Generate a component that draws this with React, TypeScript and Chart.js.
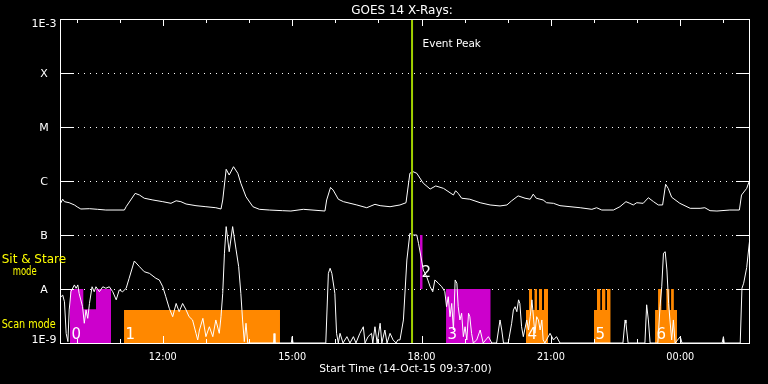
import React, { useEffect, useRef } from 'react';
import { Chart, registerables } from 'chart.js';

Chart.register(...registerables);

// ---- time axis (hours of 14-Oct-15; values above 24 fall on 15-Oct) ----
const startHour = 9 + 37 / 60; // 09:37:00
const spanHours = 16;
const xMajorHours = [12, 15, 18, 21, 24];
const xMajorLabels = ['12:00', '15:00', '18:00', '21:00', '00:00'];
const xMinorHours = [10, 11, 13, 14, 16, 17, 19, 20, 22, 23, 25];

// ---- flux axis ----
const yTickValues = [1e-9, 1e-8, 1e-7, 1e-6, 1e-5, 1e-4, 1e-3];
const yTickLabels = ['1E-9', 'A', 'B', 'C', 'M', 'X', '1E-3'];

const titleText = 'GOES 14 X-Rays:';
const xTitleText = 'Start Time (14-Oct-15 09:37:00)';
const eventPeakHour = 17.78;
const eventPeakText = 'Event Peak';

// ---- long channel (upper curve): [hour, W/m^2] ----
const longSamples: [number, number][] = [
  [9.63, 3.86e-7], [9.68, 4.6e-7], [9.72, 4.14e-7], [9.83, 3.96e-7], [9.95, 3.6e-7],
  [10.03, 3.26e-7], [10.1, 3.03e-7], [10.3, 3.07e-7], [10.49, 2.99e-7], [10.68, 2.9e-7],
  [11.11, 2.9e-7], [11.15, 3.34e-7], [11.36, 5.9e-7], [11.46, 5.5e-7], [11.57, 4.8e-7],
  [11.77, 4.45e-7], [12.0, 4.14e-7], [12.19, 3.86e-7], [12.31, 4.3e-7], [12.42, 4.14e-7],
  [12.54, 3.75e-7], [12.77, 3.49e-7], [13.0, 3.34e-7], [13.23, 3.2e-7], [13.35, 3.03e-7],
  [13.39, 4.45e-7], [13.47, 1.65e-6], [13.54, 1.29e-6], [13.64, 1.84e-6], [13.74, 1.39e-6],
  [13.81, 9.1e-7], [13.93, 5.1e-7], [14.09, 3.34e-7], [14.24, 2.99e-7], [14.47, 2.9e-7],
  [14.78, 2.82e-7], [14.97, 2.78e-7], [15.26, 2.99e-7], [15.76, 2.78e-7], [15.8, 4.45e-7],
  [15.89, 7.6e-7], [15.95, 6.8e-7], [16.07, 4.6e-7], [16.19, 4.14e-7], [16.5, 3.6e-7],
  [16.73, 3.2e-7], [16.92, 3.7e-7], [17.04, 3.49e-7], [17.27, 3.34e-7], [17.5, 3.6e-7],
  [17.64, 3.96e-7], [17.73, 1.39e-6], [17.8, 1.49e-6], [17.89, 1.39e-6], [18.04, 9.1e-7],
  [18.2, 7.1e-7], [18.33, 8.1e-7], [18.51, 7.3e-7], [18.74, 5.5e-7], [18.79, 6.6e-7],
  [18.85, 5.9e-7], [18.93, 4.8e-7], [19.12, 4.6e-7], [19.36, 3.96e-7], [19.59, 3.6e-7],
  [19.82, 3.45e-7], [19.98, 3.6e-7], [20.09, 4.3e-7], [20.24, 5.3e-7], [20.4, 4.8e-7],
  [20.52, 4.6e-7], [20.59, 5.7e-7], [20.66, 4.8e-7], [20.82, 4.45e-7], [20.9, 3.96e-7],
  [21.06, 3.86e-7], [21.21, 3.49e-7], [21.68, 3.2e-7], [21.95, 2.99e-7], [22.06, 3.2e-7],
  [22.18, 2.9e-7], [22.45, 2.9e-7], [22.6, 3.34e-7], [22.74, 4.14e-7], [22.83, 3.86e-7],
  [22.91, 3.6e-7], [22.99, 3.96e-7], [23.14, 3.86e-7], [23.26, 4.9e-7], [23.38, 4.14e-7],
  [23.49, 3.6e-7], [23.59, 3.6e-7], [23.66, 8.7e-7], [23.72, 7.3e-7], [23.8, 5.0e-7],
  [23.99, 3.86e-7], [24.23, 3.12e-7], [24.46, 3.12e-7], [24.57, 3.2e-7], [24.69, 2.82e-7],
  [24.85, 2.78e-7], [25.15, 2.9e-7], [25.37, 2.9e-7], [25.42, 5.5e-7], [25.54, 7.3e-7],
  [25.62, 1.1e-6],
];

// ---- short channel (lower curve): [hour, W/m^2] ----
const shortSamples: [number, number][] = [
  [9.64, 7.2e-9], [9.68, 7.7e-9], [9.72, 5.8e-9], [9.76, 1.5e-9], [9.8, 1.06e-9],
  [9.83, 4.1e-9], [9.87, 8.9e-9], [9.95, 1.19e-8], [9.99, 1.03e-8], [10.03, 1.19e-8],
  [10.06, 8.3e-9], [10.14, 4.7e-9], [10.18, 2.32e-9], [10.22, 4.1e-9], [10.26, 2.86e-9],
  [10.3, 5.4e-9], [10.36, 1.1e-8], [10.41, 8.9e-9], [10.45, 1.1e-8], [10.53, 8.9e-9],
  [10.61, 1.1e-8], [10.68, 1.03e-8], [10.76, 1.1e-8], [10.84, 8.9e-9], [10.92, 6.3e-9],
  [10.99, 9.6e-9], [11.07, 8.9e-9], [11.15, 1.03e-8], [11.22, 1.58e-8], [11.34, 3.3e-8],
  [11.46, 2.59e-8], [11.57, 2.09e-8], [11.69, 1.95e-8], [11.84, 1.58e-8], [11.92, 1.47e-8],
  [12.0, 1.1e-8], [12.07, 7.2e-9], [12.15, 4.4e-9], [12.23, 3.07e-9], [12.31, 5.4e-9],
  [12.38, 3.8e-9], [12.46, 5.4e-9], [12.54, 4.1e-9], [12.61, 3.07e-9], [12.69, 2.67e-9],
  [12.77, 1.51e-9], [12.81, 1.14e-9], [12.85, 1.74e-9], [12.93, 2.86e-9], [13.0, 1.31e-9],
  [13.08, 2.0e-9], [13.16, 1.31e-9], [13.23, 2.67e-9], [13.31, 1.51e-9], [13.35, 3.07e-9],
  [13.39, 8.3e-9], [13.43, 4.6e-8], [13.47, 1.43e-7], [13.54, 4.9e-8], [13.62, 1.43e-7],
  [13.7, 5.3e-8], [13.76, 2.59e-8], [13.81, 8.3e-9], [13.85, 2.67e-9], [13.89, 1.06e-9],
  [13.93, 2.32e-9], [13.97, 1e-9], [14.57, 1e-9], [14.58, 1.5e-9], [14.6, 1e-9],
  [14.98, 1e-9], [15.0, 1.31e-9], [15.02, 1e-9], [15.78, 1e-9], [15.84, 1.95e-8],
  [15.88, 2.42e-8], [15.92, 1.95e-8], [15.99, 8.3e-9], [16.03, 1.51e-9], [16.07, 1e-9],
  [16.11, 1.51e-9], [16.18, 1e-9], [16.27, 1.31e-9], [16.34, 1e-9], [16.42, 1.31e-9],
  [16.48, 1e-9], [16.57, 1.51e-9], [16.65, 2.0e-9], [16.69, 1e-9], [16.76, 1.31e-9],
  [16.84, 1.51e-9], [16.87, 1e-9], [16.92, 2.0e-9], [16.97, 1e-9], [17.04, 2.32e-9],
  [17.08, 1e-9], [17.15, 1.74e-9], [17.2, 1e-9], [17.27, 1.51e-9], [17.34, 1.14e-9],
  [17.41, 1e-9], [17.45, 1.14e-9], [17.5, 1.14e-9], [17.58, 2.67e-9], [17.66, 3.44e-8],
  [17.73, 1.07e-7], [17.81, 1.0e-7], [17.89, 1.0e-7], [17.93, 7.0e-8], [18.0, 3.44e-8],
  [18.04, 2.25e-8], [18.12, 1.69e-8], [18.2, 1.1e-8], [18.26, 8.9e-9], [18.31, 1.47e-8],
  [18.39, 1.28e-8], [18.47, 1.1e-8], [18.54, 8.9e-9], [18.58, 4.7e-9], [18.62, 7.2e-9],
  [18.66, 3.07e-9], [18.7, 5.4e-9], [18.74, 1.74e-9], [18.78, 1.47e-8], [18.82, 1.28e-8],
  [18.85, 4.7e-9], [18.89, 2.67e-9], [18.93, 3.55e-9], [18.97, 1.31e-9], [19.01, 2.0e-9],
  [19.05, 1.14e-9], [19.09, 3.55e-9], [19.12, 3.07e-9], [19.16, 1.51e-9], [19.2, 1e-9],
  [19.28, 1.14e-9], [19.36, 1.74e-9], [19.43, 1e-9], [19.55, 1.31e-9], [19.63, 1e-9],
  [19.74, 1e-9], [19.82, 2.67e-9], [19.86, 1.74e-9], [19.9, 1e-9], [20.01, 1e-9],
  [20.09, 2.32e-9], [20.13, 4.1e-9], [20.17, 4.7e-9], [20.21, 3.8e-9], [20.25, 6.3e-9],
  [20.28, 5.4e-9], [20.32, 2.0e-9], [20.36, 1.31e-9], [20.44, 2.67e-9], [20.48, 1.74e-9],
  [20.52, 3.07e-9], [20.56, 6.3e-9], [20.6, 2.67e-9], [20.63, 1.51e-9], [20.67, 3.07e-9],
  [20.71, 2.67e-9], [20.75, 1.74e-9], [20.79, 2.67e-9], [20.82, 1.14e-9], [20.86, 1e-9],
  [20.98, 1.51e-9], [21.06, 1.14e-9], [21.13, 1.31e-9], [21.21, 1e-9], [22.67, 1e-9],
  [22.72, 2.67e-9], [22.74, 2.32e-9], [22.79, 1e-9], [23.18, 1e-9], [23.22, 5.1e-9],
  [23.26, 2.67e-9], [23.3, 1e-9], [23.48, 1e-9], [23.53, 4.7e-9], [23.57, 1.1e-8],
  [23.61, 4.6e-8], [23.65, 4.9e-8], [23.69, 2.25e-8], [23.73, 5.4e-9], [23.76, 2.67e-9],
  [23.8, 1.14e-9], [23.84, 2.67e-9], [23.88, 1e-9], [24.0, 1.31e-9], [24.04, 1e-9],
  [24.97, 1e-9], [25.0, 1.31e-9], [25.02, 1e-9], [25.39, 1e-9], [25.43, 1.03e-8],
  [25.47, 1.28e-8], [25.54, 2.5e-8], [25.6, 7.0e-8], [25.62, 9.3e-8],
];

// ---- observing-mode blocks ----
const modeId = ['0', '1', '2', '3', '4', '5', '6'];
const modeKind = ['sit', 'scan', 'sit', 'sit', 'scan', 'scan', 'scan'];
const modeStart = [9.849, 11.101, 17.965, 18.568, 20.423, 21.999, 23.415];
const modeEnd = [10.8, 14.718, 18.027, 19.604, 20.933, 22.386, 23.925];
const modeLow = [1e-9, 1e-9, 1e-8, 1e-9, 1e-9, 1e-9, 1e-9];
const modeHigh = [1e-8, 4.1e-9, 1e-7, 1e-8, 4.1e-9, 4.1e-9, 4.1e-9];

// sub-intervals within a block that reach a different level
const stepMode = [0, 4, 4, 4, 4, 5, 5, 5, 6, 6, 6];
const stepStart = [10.157, 20.493, 20.62, 20.724, 20.84, 22.069, 22.185, 22.3, 23.485, 23.678, 23.787];
const stepEnd = [10.452, 20.562, 20.678, 20.794, 20.933, 22.145, 22.261, 22.386, 23.562, 23.748, 23.85];
const stepLevel = [4.2e-9, 1e-8, 1e-8, 1e-8, 1e-8, 1e-8, 1e-8, 1e-8, 1e-8, 1e-8, 1e-8];

const sitStareLabel = ['Sit & Stare', 'mode'];
const scanLabel = 'Scan mode';

const SIT_COLOR = '#cc00cc';
const SCAN_COLOR = '#ff8800';
const EVENT_COLOR = '#a0d000';
const YELLOW = '#ffff00';

function modeOutline(i: number) {
  const pts: { x: number; y: number }[] = [{ x: modeStart[i], y: modeHigh[i] }];
  stepMode.forEach((m, k) => {
    if (m !== i) return;
    pts.push(
      { x: stepStart[k], y: modeHigh[i] },
      { x: stepStart[k], y: stepLevel[k] },
      { x: stepEnd[k], y: stepLevel[k] },
      { x: stepEnd[k], y: modeHigh[i] },
    );
  });
  pts.push({ x: modeEnd[i], y: modeHigh[i] });
  return pts;
}

const FONT = '"DejaVu Sans", "Liberation Sans", sans-serif';

const decorPlugin = {
  id: 'goesDecor',
  beforeDraw(chart: any) {
    const { ctx, width, height } = chart;
    ctx.save();
    ctx.fillStyle = '#000';
    ctx.fillRect(0, 0, width, height);
    ctx.restore();
  },
  beforeDatasetsDraw(chart: any) {
    const { ctx, chartArea: a, scales } = chart;
    const ys = scales.y;
    ctx.save();
    ctx.strokeStyle = '#fff';
    ctx.lineWidth = 1;
    ctx.setLineDash([1, 5]);
    yTickValues.forEach((v, i) => {
      if (i === 0 || i === yTickValues.length - 1) return;
      const y = Math.round(ys.getPixelForValue(v)) + 0.5;
      ctx.beginPath();
      ctx.moveTo(a.left + 18, y);
      ctx.lineTo(a.right - 14, y);
      ctx.stroke();
    });
    ctx.restore();
  },
  afterDatasetsDraw(chart: any) {
    const { ctx, chartArea: a, scales } = chart;
    const xs = scales.x;
    const ys = scales.y;
    ctx.save();

    // block numbers
    ctx.fillStyle = '#fff';
    ctx.font = `15px ${FONT}`;
    ctx.textAlign = 'left';
    ctx.textBaseline = 'alphabetic';
    modeId.forEach((id, i) => {
      const x = xs.getPixelForValue(modeStart[i]) + 1.5;
      const yLow = ys.getPixelForValue(modeLow[i]);
      const yHigh = ys.getPixelForValue(modeHigh[i]);
      const base = modeLow[i] > ys.min ? (yLow + yHigh) / 2 + 15 : yLow - 4;
      ctx.fillText(id, x, base);
    });

    // event peak line
    const ex = xs.getPixelForValue(eventPeakHour);
    ctx.strokeStyle = EVENT_COLOR;
    ctx.lineWidth = 2;
    ctx.beginPath();
    ctx.moveTo(ex, a.top);
    ctx.lineTo(ex, a.bottom);
    ctx.stroke();
    ctx.fillStyle = '#fff';
    ctx.font = `10.5px ${FONT}`;
    ctx.fillText(eventPeakText, ex + 10.5, a.top + 27.5);

    // frame
    ctx.strokeStyle = '#fff';
    ctx.lineWidth = 1;
    ctx.strokeRect(a.left + 0.5, a.top + 0.5, a.right - a.left - 1, a.bottom - a.top);

    // y ticks
    yTickValues.forEach((v) => {
      const y = Math.round(ys.getPixelForValue(v)) + 0.5;
      ctx.beginPath();
      ctx.moveTo(a.left, y);
      ctx.lineTo(a.left + 14, y);
      ctx.moveTo(a.right - 14, y);
      ctx.lineTo(a.right, y);
      ctx.stroke();
    });

    // x ticks
    const tick = (h: number, len: number) => {
      const x = Math.round(xs.getPixelForValue(h)) + 0.5;
      ctx.beginPath();
      ctx.moveTo(x, a.bottom);
      ctx.lineTo(x, a.bottom - len);
      ctx.moveTo(x, a.top);
      ctx.lineTo(x, a.top + len);
      ctx.stroke();
    };
    xMajorHours.forEach((h) => tick(h, 7));
    xMinorHours.forEach((h) => tick(h, 4));

    // x labels
    ctx.fillStyle = '#fff';
    ctx.textAlign = 'center';
    ctx.font = `10px ${FONT}`;
    xMajorHours.forEach((h, i) => {
      ctx.fillText(xMajorLabels[i], xs.getPixelForValue(h), a.bottom + 16.5, 28);
    });
    ctx.font = `10.7px ${FONT}`;
    ctx.fillText(xTitleText, (a.left + a.right) / 2 + 0.5, a.bottom + 28.7, 174);

    // title
    ctx.font = `12px ${FONT}`;
    ctx.fillText(titleText, (a.left + a.right) / 2 - 3, 13.5, 111);

    // y labels
    ctx.font = `11px ${FONT}`;
    yTickValues.forEach((v, i) => {
      const y = ys.getPixelForValue(v);
      let base = y + 3.8;
      if (i === 0) base = y;
      if (i === yTickValues.length - 1) base = y + 7.7;
      ctx.fillText(yTickLabels[i], a.left - 16, base, 26);
    });

    // mode legend (yellow)
    ctx.fillStyle = YELLOW;
    ctx.textAlign = 'left';
    ctx.font = `12px ${FONT}`;
    ctx.fillText(sitStareLabel[0], 1.7, 263.3, 65);
    ctx.fillText(sitStareLabel[1], 12.7, 275, 24);
    ctx.fillText(scanLabel, 1.7, 328.3, 54);

    ctx.restore();
  },
};

export default function App() {
  const canvasRef = useRef<HTMLCanvasElement | null>(null);

  useEffect(() => {
    document.body.style.margin = '0';
    document.body.style.background = '#000';
    const canvas = canvasRef.current;
    if (!canvas) return;

    const modeSets = modeId.map((id, i) => ({
      label: `mode ${id}`,
      data: modeOutline(i),
      borderWidth: 0,
      borderColor: 'rgba(0,0,0,0)',
      backgroundColor: modeKind[i] === 'sit' ? SIT_COLOR : SCAN_COLOR,
      pointRadius: 0,
      tension: 0,
      fill: { value: modeLow[i] },
      order: 10,
    }));

    const chart = new Chart(canvas, {
      type: 'line',
      data: {
        datasets: [
          {
            label: 'short',
            data: shortSamples.map(([x, y]) => ({ x, y })),
            borderColor: '#ffffff',
            borderWidth: 1,
            pointRadius: 0,
            tension: 0,
            fill: false,
            order: 0,
          },
          {
            label: 'long',
            data: longSamples.map(([x, y]) => ({ x, y })),
            borderColor: '#ffffff',
            borderWidth: 1,
            pointRadius: 0,
            tension: 0,
            fill: false,
            order: 0,
          },
          ...modeSets,
        ] as any,
      },
      options: {
        responsive: false,
        animation: false,
        events: [],
        layout: { padding: { left: 60, top: 19, right: 18, bottom: 41 } },
        scales: {
          x: { type: 'linear', display: false, min: startHour, max: startHour + spanHours },
          y: { type: 'logarithmic', display: false, min: 1e-9, max: 1e-3 },
        },
        plugins: {
          legend: { display: false },
          tooltip: { enabled: false },
        },
      },
      plugins: [decorPlugin],
    });

    return () => chart.destroy();
  }, []);

  return (
    <div style={{ width: 768, height: 384, background: '#000' }}>
      <canvas ref={canvasRef} width={768} height={384} style={{ display: 'block' }} />
    </div>
  );
}
